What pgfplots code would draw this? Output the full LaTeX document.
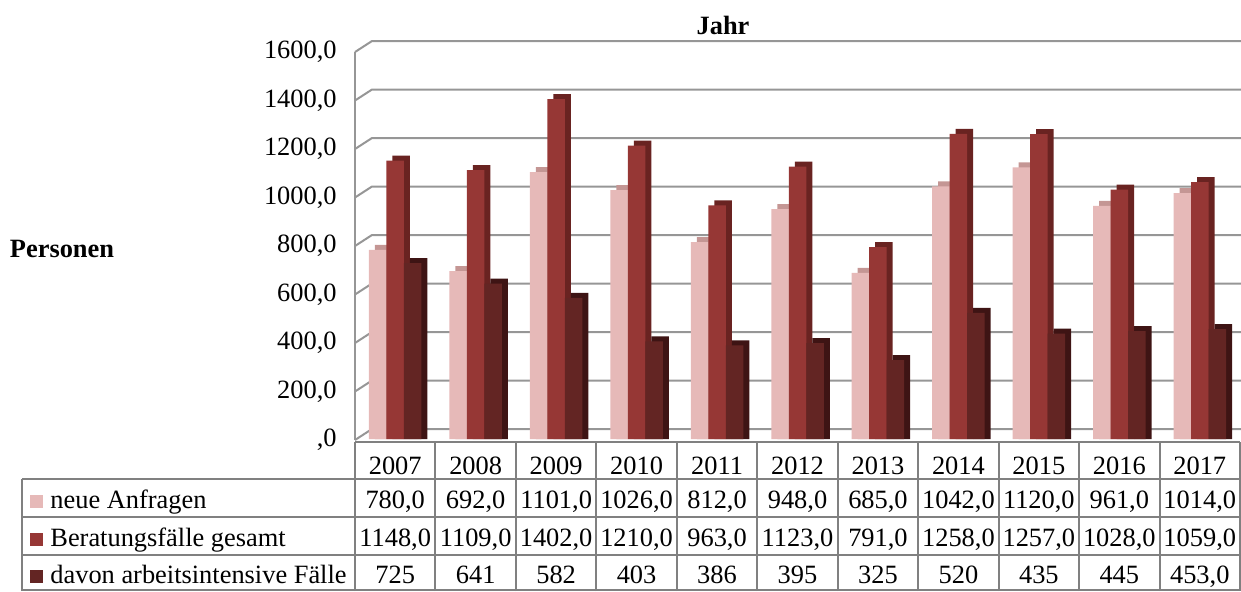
\documentclass[border=0pt]{standalone}
\usepackage{pgfplots}
\pgfplotsset{compat=1.18}
\usepackage{pgfplotstable}
\usepackage{fontspec}
\setmainfont{Liberation Serif}

\definecolor{pinkF}{RGB}{230,185,184}
\definecolor{pinkT}{RGB}{196,150,148}
\definecolor{redF}{RGB}{150,55,53}
\definecolor{redS}{RGB}{105,35,33}
\definecolor{darkF}{RGB}{99,37,35}
\definecolor{darkS}{RGB}{62,20,20}
\definecolor{gridc}{RGB}{150,150,150}
\definecolor{tabc}{RGB}{128,128,128}

% x = category index (2007 = 0)
\pgfplotstableread{
x  a    b    c
0  780  1148 725
1  692  1109 641
2  1101 1402 582
3  1026 1210 403
4  812  963  386
5  948  1123 395
6  685  791  325
7  1042 1258 520
8  1120 1257 435
9  961  1028 445
10 1014 1059 453
}\data

\begin{document}
\begin{tikzpicture}[font=\fontsize{13.2}{15}\selectfont]
\useasboundingbox (0,0) rectangle (620.5pt,295.5pt);

% back wall grid + value labels
\foreach \v in {0,200,...,1600} {
  \pgfmathsetmacro\yy{75.5+\v*0.12125}
  \draw[gridc, line width=1pt] (177.5pt,\yy pt) -- (186pt,\yy pt+5.5pt) -- (620.5pt,\yy pt+5.5pt);
  \node[anchor=east, inner sep=0pt] at (168.5pt,\yy pt) {\ifnum\v=0 \else\v\fi,0};
}
\draw[gridc, line width=1pt] (177.5pt,75.5pt) -- (177.5pt,269.5pt);

\begin{axis}[
    at={(177.5pt,76pt)}, anchor=south west,
    width=442.5pt, height=194pt, scale only axis,
    xmin=-0.5, xmax=10.5, ymin=0, ymax=1600,
    hide axis, clip=false,
    ybar, bar width=8.75pt,
]
\addplot[fill=pinkT, draw=none, bar shift=-5.75pt] table[x=x, y expr=\thisrow{a}+20.6] {\data};
\addplot[fill=pinkF, draw=none, bar shift=-8.75pt] table[x=x, y=a] {\data};
\addplot[fill=redS, draw=none, bar shift=3pt] table[x=x, y expr=\thisrow{b}+20.6] {\data};
\addplot[fill=redF, draw=none, bar shift=0pt] table[x=x, y=b] {\data};
\addplot[fill=darkS, draw=none, bar shift=11.75pt] table[x=x, y expr=\thisrow{c}+20.6] {\data};
\addplot[fill=darkF, draw=none, bar shift=8.75pt] table[x=x, y=c] {\data};
\end{axis}

% titles
\node[font=\fontsize{13.2}{15}\selectfont\bfseries] at (361.5pt,283pt) {Jahr};
\node[font=\fontsize{13.2}{15}\selectfont\bfseries] at (31pt,171pt) {Personen};

% data table
\begin{scope}[tabc, line width=1pt]
  \draw (177.5pt,74.5pt) -- (620pt,74.5pt);
  \draw (11pt,56pt) -- (620pt,56pt);
  \draw (11pt,37pt) -- (620pt,37pt);
  \draw (11pt,18pt) -- (620pt,18pt);
  \draw (11pt,0.5pt) -- (620pt,0.5pt);
  \draw (11pt,0pt) -- (11pt,56pt);
  \foreach \k in {0,...,11}
    \draw (177.5pt+\k*40.2273pt,0pt) -- (177.5pt+\k*40.2273pt,74.5pt);
\end{scope}

\tikzset{cell/.style={anchor=base, inner sep=0pt}}
\foreach \t [count=\i from 0] in {2007,2008,2009,2010,2011,2012,2013,2014,2015,2016,2017}
  \node[cell] at (177.5pt+\i*40.2273pt+20.11pt,58.5pt) {\t};
\foreach \t [count=\i from 0] in {{780,0},{692,0},{1101,0},{1026,0},{812,0},{948,0},{685,0},{1042,0},{1120,0},{961,0},{1014,0}}
  \node[cell] at (177.5pt+\i*40.2273pt+20.11pt,41.5pt) {\t};
\foreach \t [count=\i from 0] in {{1148,0},{1109,0},{1402,0},{1210,0},{963,0},{1123,0},{791,0},{1258,0},{1257,0},{1028,0},{1059,0}}
  \node[cell] at (177.5pt+\i*40.2273pt+20.11pt,22.5pt) {\t};
\foreach \t [count=\i from 0] in {725,641,582,403,386,395,325,520,435,445,{453,0}}
  \node[cell] at (177.5pt+\i*40.2273pt+20.11pt,4pt) {\t};

\fill[pinkF] (15pt,41.5pt) rectangle (21.5pt,48pt);
\fill[redF]  (15pt,22.5pt) rectangle (21.5pt,29pt);
\fill[darkF] (15pt,4pt) rectangle (21.5pt,10.5pt);
\node[cell, anchor=base west] at (25pt,41.5pt) {neue Anfragen};
\node[cell, anchor=base west] at (25pt,22.5pt) {Beratungsfälle gesamt};
\node[cell, anchor=base west] at (25pt,4pt) {davon arbeitsintensive Fälle};
\end{tikzpicture}
\end{document}
